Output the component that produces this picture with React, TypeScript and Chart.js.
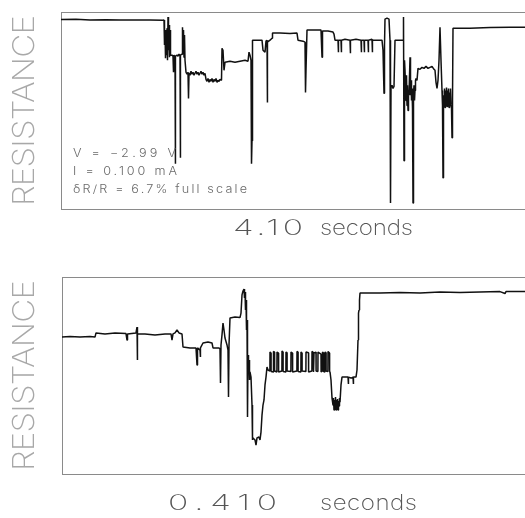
import { useEffect, useRef } from "react";
import { Chart, registerables } from "chart.js";

Chart.register(...registerables);

// ---- Data (time in arbitrary sample units, resistance in % of full scale) ----
const topTime = [
  0, 15, 29, 45, 59, 75, 89, 102,
  103, 103.5, 104, 104.5, 105, 105.5, 106, 106.5, 107, 107.5, 108, 108.5, 109, 109.5,
  111, 112, 112.5, 113, 114, 114.3, 114.6, 116, 117, 118, 119, 119.3, 119.6, 121, 121.5, 122, 122.5, 123, 123.5, 124,
  125, 126, 127, 127.5, 128, 129, 130, 131, 132, 133, 134, 135, 136, 137, 138, 139, 140, 141, 142, 143, 144,
  145, 146, 147, 148, 149, 150, 151, 152, 153, 154, 155, 156, 157, 158, 159,
  160.5, 161, 162, 163, 164, 169, 174, 179, 184, 187,
  188, 189, 190, 190.5, 191, 191.5, 192, 197, 201, 202, 204, 205, 206, 206.3, 206.6, 209, 211, 211.5,
  219, 229, 236, 237, 242, 244, 244.5, 245, 246, 254, 260, 261, 261.5, 267, 272, 273,
  274, 277, 277.3, 277.6, 280, 280.3, 280.6, 284, 289, 289.3, 289.6, 295, 300, 300.3, 300.6, 303, 303.3, 303.6, 307, 307.3, 307.6, 311, 311.3, 311.6, 317, 321,
  322, 323, 323.5, 324, 326, 328, 329, 329.5, 330, 331, 332, 333, 334, 339, 342,
  342.5, 343, 343.5, 344, 345, 345.5, 346, 346.5, 347, 347.5, 348, 349, 349.5, 350, 350.5, 351, 351.5, 352, 352.5, 353, 353.5, 354, 354.5, 355, 356,
  357, 359, 361, 363, 365, 367, 369, 371, 373, 374, 375, 376, 377, 378, 379, 380,
  381, 381.5, 382, 382.5, 383, 383.5, 384, 384.5, 385, 385.5, 386, 386.5, 387, 387.5, 388, 388.5, 389, 389.5, 390, 390.5, 391, 391.5, 392,
  409, 429, 449, 464,
];
const topResistance = [
  96.2, 96.3, 96.0, 96.1, 96.0, 95.9, 96.0, 95.8,
  95.9, 83.2, 90.8, 76.5, 88.3, 78.1, 91.8, 75.5, 97.4, 80.6, 93.4, 77.0, 90.8, 78.1,
  78.1, 77.6, 69.4, 78.1, 77.0, 23.0, 77.6, 78.1, 77.6, 78.6, 77.6, 26.0, 78.1, 78.6, 92.3, 80.6, 90.8, 77.0, 88.3, 75.5,
  69.4, 68.4, 69.4, 56.1, 68.9, 67.9, 69.9, 68.4, 69.4, 67.9, 68.9, 69.9, 68.4, 69.4, 67.9, 68.9, 69.9, 68.4, 69.4, 67.9, 68.9,
  65.8, 64.8, 66.3, 64.3, 65.8, 64.8, 66.3, 64.3, 65.8, 64.8, 66.3, 64.3, 65.3, 64.8, 65.8,
  65.3, 81.6, 80.6, 70.4, 74.5, 75.0, 74.5, 75.0, 75.5, 75.0,
  79.6, 78.1, 75.5, 23.0, 34.7, 85.7, 85.7, 85.7, 85.7, 80.6, 79.6, 85.2, 85.7, 54.1, 84.7, 85.7, 86.7, 89.3,
  89.3, 89.1, 89.3, 85.7, 85.2, 84.7, 59.2, 70.4, 90.8, 90.8, 90.8, 77.0, 90.3, 90.3, 89.8, 88.8,
  85.7, 85.7, 79.6, 85.7, 85.7, 79.6, 85.7, 86.2, 85.7, 79.1, 85.7, 86.2, 85.7, 79.6, 85.7, 85.7, 79.6, 85.7, 85.7, 79.6, 85.7, 86.2, 79.6, 85.7, 85.7, 85.7,
  80.6, 58.7, 83.2, 96.4, 96.9, 96.4, 85.7, 3.1, 61.7, 62.8, 61.2, 62.2, 85.7, 85.7, 85.7,
  97.4, 24.5, 75.5, 70.4, 55.1, 67.9, 52.6, 62.8, 50.0, 60.2, 57.7, 77.0, 57.7, 65.3, 55.1, 61.2, 51.0, 3.1, 57.7, 62.8, 55.1, 60.2, 65.3, 66.3, 65.3,
  71.4, 70.9, 71.9, 71.4, 72.4, 71.4, 71.9, 72.4, 70.9, 70.4, 64.3, 61.2, 65.3, 75.5, 92.3, 75.5,
  60.2, 52.6, 15.8, 57.7, 52.6, 61.2, 51.5, 60.2, 53.1, 61.7, 52.0, 60.2, 53.6, 61.2, 51.5, 59.2, 52.6, 61.2, 53.1, 51.0, 36.2, 55.1, 91.8,
  91.8, 92.1, 92.3, 92.3,
];

const bottomTime = [
  0, 8, 18, 28, 33, 34, 43, 53, 64, 65, 65.5, 74, 75, 75.3, 75.6, 83, 93, 103, 109, 110, 111, 113, 115, 117, 120,
  121, 128, 134, 135, 135.5, 138, 138.3, 138.6, 141, 146, 150, 151, 157, 158, 158.5, 159, 160, 161, 162, 163, 165, 166, 166.5, 167, 168, 173, 178,
  179, 180, 181, 182, 182.5, 183, 183.5, 184, 184.5, 185, 185.5, 186, 186.5, 187, 187.5, 188, 189, 190, 190.5, 191, 193, 194, 195, 197, 198, 199, 200, 201, 202, 203, 204, 205, 206,
  207.9, 208, 209, 209.1, 211.4, 211.5, 212.5, 212.6, 214.9, 215, 216.5, 216.6, 219.9, 220, 221, 221.1,
  223.9, 224, 225, 225.1, 228.9, 229, 230.5, 230.6, 234.9, 235, 236, 236.1, 238.9, 239, 240, 240.1,
  243.9, 244, 246.5, 246.6, 249.9, 250, 251, 251.1, 251.9, 252, 254, 254.1, 255.9, 256, 259, 259.1,
  260.4, 260.5, 261.5, 261.6, 262.9, 263, 264, 264.1, 265.9, 266, 267.5, 267.6,
  268, 269, 270, 271, 271.5, 272, 272.5, 273, 273.5, 274, 274.5, 275, 275.5, 276, 276.5, 277, 277.5, 278,
  279, 280, 283, 286, 286.3, 286.6, 289, 291, 291.3, 291.6, 294, 295, 296, 296.5, 297, 297.5, 298,
  318, 338, 358, 378, 398, 418, 438, 443, 444, 463,
];
const bottomResistance = [
  69.5, 69.8, 69.5, 69.8, 69.5, 71.6, 71.1, 71.6, 71.3, 68.0, 71.1, 71.6, 74.6, 57.9, 71.1, 71.1, 70.6, 71.1, 71.1, 68.0, 71.1, 71.6, 73.1, 71.6, 71.1,
  64.5, 64.0, 64.0, 55.3, 64.0, 62.9, 59.4, 64.0, 66.5, 67.0, 66.5, 64.0, 64.0, 63.5, 46.2, 65.5, 70.6, 76.6, 73.1, 69.0, 65.5, 62.9, 39.1, 65.5, 79.2, 79.7, 79.4,
  81.7, 90.9, 92.9, 93.9, 89.3, 92.4, 83.2, 88.3, 73.1, 78.2, 28.9, 60.4, 51.3, 57.9, 47.7, 51.8, 49.2, 35.0, 17.3, 18.3, 17.3, 14.7, 18.3, 18.8, 17.3, 21.3, 29.9, 35.0, 37.6, 45.2, 49.2, 54.3, 52.8,
  52.3, 61.9, 61.4, 52.0, 51.8, 62.2, 61.9, 52.3, 51.8, 61.9, 61.4, 51.8, 52.3, 62.4, 61.9, 52.0,
  51.8, 61.9, 61.6, 52.3, 52.0, 61.9, 61.4, 51.8, 52.3, 62.2, 61.9, 52.0, 51.8, 61.9, 61.4, 52.3,
  52.0, 61.9, 61.6, 51.8, 52.3, 62.2, 61.9, 52.0, 51.8, 61.4, 61.9, 52.3, 52.0, 61.9, 60.9, 51.8,
  52.3, 61.9, 61.4, 52.0, 51.8, 61.9, 61.6, 52.3, 52.0, 62.2, 61.4, 51.8,
  51.8, 47.7, 38.6, 35.0, 38.6, 32.5, 37.6, 33.5, 39.1, 32.5, 37.6, 34.0, 38.1, 32.5, 37.1, 34.5, 38.6, 36.5,
  45.2, 49.2, 49.2, 49.2, 45.7, 49.2, 48.7, 49.2, 45.7, 49.2, 49.2, 52.8, 68.0, 81.7, 83.2, 88.3, 91.9,
  91.9, 92.1, 91.9, 92.4, 92.1, 92.4, 92.6, 91.6, 92.6, 92.6,
];

const yAxisLabel = "RESISTANCE";
const topSpanLabel = ["4.10", "seconds"];
const bottomSpanLabel = ["0.410", "seconds"];
const topNotes = ["V = \u22122.99 V", "I = 0.100 mA", "\u03B4R/R = 6.7% full scale"];

const FAMILY = '"Inter", "DejaVu Sans", "Liberation Sans", sans-serif';

type Caption = {
  numX: number; numW: number; unitX: number; unitW: number; baseline: number;
  notes?: { x: number; baselines: number[]; widths: number[] };
};

function drawSpaced(
  ctx: CanvasRenderingContext2D, text: string, x: number, y: number, width: number,
  font: string, color: string, stretch = 1
) {
  ctx.save();
  ctx.translate(x, y);
  ctx.scale(stretch, 1);
  ctx.font = font;
  (ctx as any).letterSpacing = "0px";
  const w0 = ctx.measureText(text).width;
  const n = Array.from(text).length;
  const ls = n > 1 ? (width / stretch - w0) / (n - 1) : 0;
  (ctx as any).letterSpacing = `${ls}px`;
  ctx.fillStyle = color;
  ctx.textAlign = "left";
  ctx.textBaseline = "alphabetic";
  ctx.fillText(text, 0, 0);
  ctx.restore();
}

function makeCaptions(span: string[], cap: Caption, notes?: string[]) {
  return {
    id: "captions",
    afterDraw(chart: Chart) {
      const { ctx, chartArea: a } = chart;
      const spanLen = a.bottom - a.top - 6;
      ctx.save();
      ctx.translate(24, (a.top + a.bottom) / 2);
      ctx.rotate(-Math.PI / 2);
      drawSpaced(ctx, yAxisLabel, -spanLen / 2, 10, spanLen, `200 30px ${FAMILY}`, "#a8a8a8", 1.1);
      ctx.restore();
      drawSpaced(ctx, span[0], cap.numX, cap.baseline, cap.numW, `200 21px ${FAMILY}`, "#555", 1.6);
      drawSpaced(ctx, span[1], cap.unitX, cap.baseline, cap.unitW, `200 21px ${FAMILY}`, "#555", 1.15);
      if (notes && cap.notes) {
        notes.forEach((t, i) => {
          drawSpaced(ctx, t, cap.notes!.x, cap.notes!.baselines[i], cap.notes!.widths[i], `300 11px ${FAMILY}`, "#6a6a6a", 1.15);
        });
      }
    },
  };
}

function makeConfig(times: number[], values: number[], xMax: number, pad: { left: number; top: number; bottom: number }, plugin: any): any {
  const axisCommon = {
    type: "linear",
    grid: { display: false, drawTicks: false },
    ticks: { display: false },
    border: { display: true, color: "#8a8a8a", width: 1 },
  };
  return {
    type: "line",
    data: {
      datasets: [
        {
          data: times.map((t, i) => ({ x: t, y: values[i] })),
          borderColor: "#111",
          borderWidth: 1.5,
          borderJoinStyle: "bevel",
          pointRadius: 0,
          tension: 0,
          fill: false,
        },
      ],
    },
    options: {
      animation: false,
      responsive: false,
      maintainAspectRatio: false,
      events: [],
      layout: { padding: { left: pad.left, top: pad.top, right: 0, bottom: pad.bottom } },
      plugins: { legend: { display: false }, tooltip: { enabled: false }, title: { display: false } },
      scales: {
        x: { ...axisCommon, position: "bottom", min: 0, max: xMax },
        xTop: { ...axisCommon, position: "top", min: 0, max: xMax },
        y: { ...axisCommon, position: "left", min: 0, max: 100 },
      },
    },
    plugins: [plugin],
  };
}

export default function App() {
  const topRef = useRef<HTMLCanvasElement>(null);
  const bottomRef = useRef<HTMLCanvasElement>(null);

  useEffect(() => {
    const top = new Chart(
      topRef.current!,
      makeConfig(
        topTime,
        topResistance,
        464,
        { left: 61, top: 12, bottom: 51 },
        makeCaptions(
          topSpanLabel,
          {
            numX: 233, numW: 70, unitX: 320, unitW: 93, baseline: 235,
            notes: { x: 73, baselines: [157, 175, 193], widths: [103, 104, 174] },
          },
          topNotes
        )
      )
    );
    const bottom = new Chart(
      bottomRef.current!,
      makeConfig(
        bottomTime,
        bottomResistance,
        463,
        { left: 62, top: 17, bottom: 44 },
        makeCaptions(bottomSpanLabel, { numX: 168, numW: 109, unitX: 320, unitW: 97, baseline: 250 })
      )
    );
    return () => {
      top.destroy();
      bottom.destroy();
    };
  }, []);

  return (
    <div style={{ position: "absolute", left: 0, top: 0, width: 525, height: 518, overflow: "hidden", background: "#fff" }}>
      <canvas ref={topRef} width={525} height={260} style={{ display: "block", width: 525, height: 260 }} />
      <canvas ref={bottomRef} width={525} height={258} style={{ display: "block", width: 525, height: 258 }} />
    </div>
  );
}
